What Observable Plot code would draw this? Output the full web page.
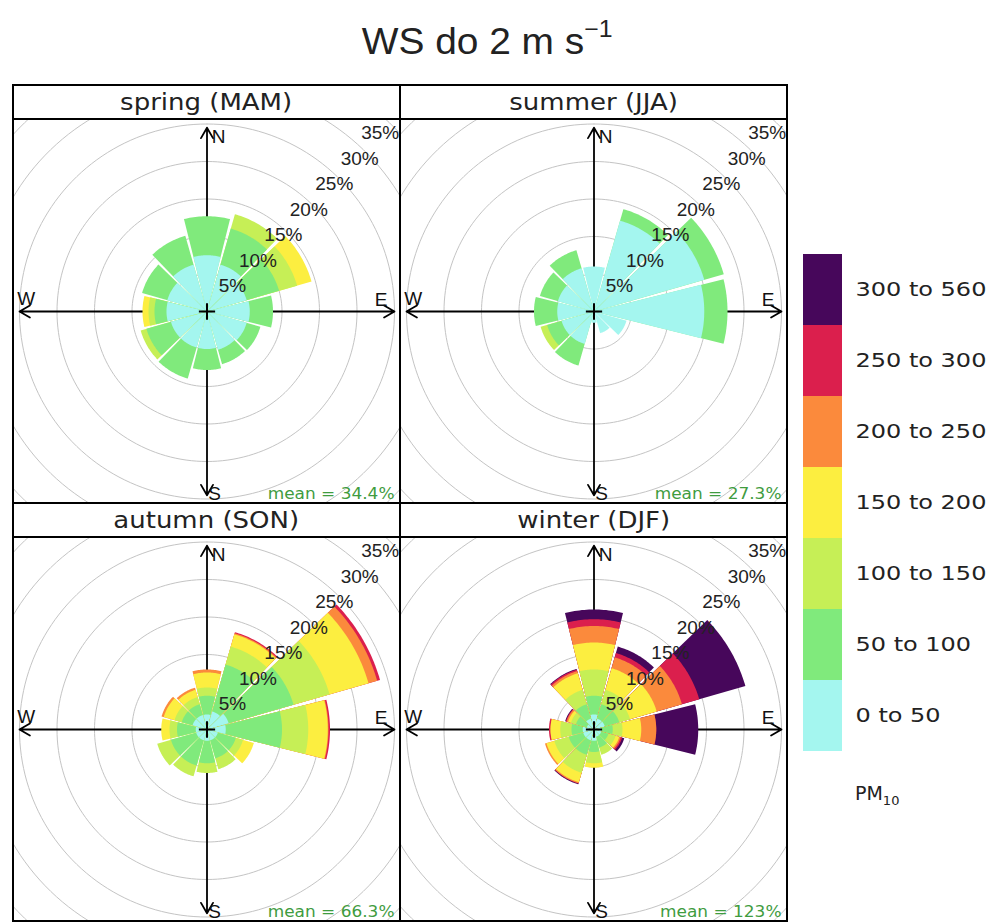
<!DOCTYPE html>
<html><head><meta charset="utf-8">
<script src="https://cdn.jsdelivr.net/npm/d3@7"></script>
<script src="https://cdn.jsdelivr.net/npm/@observablehq/plot@0.6"></script>
<style>
body{margin:0;background:#fff;}
#root{position:relative;width:993px;height:923px;overflow:hidden;background:#fff;font-family:"DejaVu Sans",sans-serif;}
.strip{position:absolute;height:34px;display:flex;align-items:center;justify-content:center;font-size:23px;color:#222;font-family:"DejaVu Sans",sans-serif;}
.strip span{display:inline-block;transform:scaleX(1.13);}
.hline{position:absolute;height:2px;background:#000;}
.vline{position:absolute;width:2px;background:#000;}
#title{position:absolute;left:0;top:11px;width:975px;text-align:center;font-family:"Liberation Sans",Arial,sans-serif;font-size:36px;line-height:36px;color:#222;}
#title span.t{display:inline-block;transform:scaleX(1.08);}
#pm{position:absolute;left:855px;top:782px;font-size:19px;color:#222;font-family:"DejaVu Sans",sans-serif;}
</style></head><body><div id="root"></div>
<script>
// ---------------- data ----------------
const directions = [0, 30, 60, 90, 120, 150, 180, 210, 240, 270, 300, 330];
const pmBins = ["0 to 50", "50 to 100", "100 to 150", "150 to 200", "200 to 250", "250 to 300", "300 to 560"];
const pmColors = ["#A4F6EF", "#80EA7C", "#C6EF56", "#FCEE40", "#FB8A3C", "#DB1F4D", "#47075B"];
const seasonNames = ["spring (MAM)", "summer (JJA)", "autumn (SON)", "winter (DJF)"];
const meanLabels = ["mean = 34.4%", "mean = 27.3%", "mean = 66.3%", "mean = 123%"];
const ringTicks = [5, 10, 15, 20, 25, 30, 35];
// cumulative frequency (%) at the top of each PM10 bin, per direction
const springTops = [
  [7.5, 12.7], [6.5, 11.5, 13.5], [5.5, 10.0, 12.5, 14.5], [5.7, 8.8],
  [5.5, 7.4], [5.3, 7.3], [5.0, 7.8], [5.0, 9.3],
  [5.0, 8.4, 9.2], [5.4, 7.0, 7.8, 8.6], [5.5, 9.0], [6.5, 10.5]
];
const summerTops = [
  [6.0], [12.6, 14.2], [15.3, 18.0], [14.7, 17.8],
  [4.5], [3.0], [1.5], [4.5, 7.5],
  [4.5, 6.5, 7.4], [4.9, 8.0], [5.0, 7.5], [6.0, 8.5]
];
const autumnTops = [
  [2.0, 4.5, 5.6, 7.6, 8.0], [2.5, 9.0, 11.5, 13.2, 13.35, 13.5], [3.0, 12.0, 17.0, 22.4, 23.6, 24.0], [2.5, 10.0, 13.5, 16.1, 16.2, 16.4],
  [1.5, 4.0, 5.0, 6.5], [1.5, 4.0, 5.5], [1.5, 4.5, 5.8], [1.5, 5.0, 6.5],
  [1.5, 5.0, 6.9], [1.5, 4.0, 5.0, 6.1], [2.0, 3.5, 4.5, 6.0, 6.3], [2.0, 3.5, 4.5, 5.5, 5.8]
];
const winterTops = [
  [2.0, 4.5, 8.0, 11.6, 13.8, 14.7, 16.0], [1.5, 3.5, 5.5, 8.5, 10.0, 10.6, 11.5], [1.5, 3.5, 5.0, 8.7, 12.2, 14.6, 21.0], [1.0, 2.5, 3.8, 6.3, 8.3, 8.3, 13.9],
  [1.0, 2.0, 3.0, 3.5, 3.7, 3.9, 4.2], [1.0, 2.5, 3.5], [1.5, 3.0, 4.5, 5.1], [1.5, 3.5, 6.0, 7.3, 7.45, 7.5, 7.6],
  [1.5, 3.5, 5.5, 6.6, 6.8], [1.5, 3.0, 4.5, 5.8, 5.8, 6.0], [1.0, 2.5, 3.2, 3.6, 3.8, 3.9, 4.0], [1.5, 3.5, 5.5, 7.8, 8.1, 8.3, 8.4]
];
const seasonTops = [springTops, summerTops, autumnTops, winterTops];

// ---------------- layout ----------------
const K = 7.5;             // px per percent
const PW = 387, PH = 384, STRIP_H = 34;
const GX = 13, GY = 85;
const xDom = [-PW / 2 / K, PW / 2 / K], yDom = [-PH / 2 / K, PH / 2 / K];
const HALF = 14;           // half sector width in degrees
const AXH = 25, AXV = 24.5;
const rad = Math.PI / 180;

const root = document.getElementById("root");

function wedgePoints(tops, s) {
  const pts = [];
  tops.forEach((cum, i) => {
    const wd = directions[i];
    for (let k = cum.length - 1; k >= 0; k--) {
      const key = s + "-" + wd + "-" + k, r = cum[k], bin = pmBins[k];
      pts.push({key, bin, x: 0, y: 0});
      for (let j = 0; j <= 24; j++) {
        const a = (wd - HALF + 2 * HALF * j / 24) * rad;
        pts.push({key, bin, x: r * Math.sin(a), y: r * Math.cos(a)});
      }
      pts.push({key, bin, x: 0, y: 0});
    }
  });
  return pts;
}

const ringPts = ringTicks.flatMap(p => d3.range(0, 361, 2).map(a => ({p, x: p * Math.sin(a * rad), y: p * Math.cos(a * rad)})));
// labels sit on the rings along 45°, kept inside the panel frame
const ringLabels = ringTicks.map(p => ({
  t: p + "%",
  x: Math.min(p * 0.96 * Math.SQRT1_2, xDom[1] - 2.7),
  y: Math.min(p * 0.96 * Math.SQRT1_2, yDom[1] - 1.4)
}));
const compass = [
  {x1: 0, y1: 0, x2: 0, y2: AXV}, {x1: 0, y1: 0, x2: 0, y2: -AXV},
  {x1: 0, y1: 0, x2: AXH, y2: 0}, {x1: 0, y1: 0, x2: -AXH, y2: 0}
];
const compassLabels = [
  {t: "N", x: 0.062 * AXH, y: 0.95 * AXV}, {t: "S", x: 0.04 * AXH, y: -0.995 * AXV},
  {t: "E", x: 0.928 * AXH, y: 0.064 * AXH}, {t: "W", x: -0.964 * AXH, y: 0.068 * AXH}
];

seasonNames.forEach((name, i) => {
  const c = i % 2, r = Math.floor(i / 2);
  const left = GX + c * PW, top = GY + r * (PH + STRIP_H);
  const strip = document.createElement("div");
  strip.className = "strip";
  strip.style.left = left + "px"; strip.style.top = top + "px"; strip.style.width = PW + "px";
  strip.innerHTML = "<span>" + name + "</span>";
  root.appendChild(strip);

  const svg = Plot.plot({
    width: PW, height: PH, margin: 0,
    x: {domain: xDom, axis: null},
    y: {domain: yDom, axis: null},
    color: {type: "ordinal", domain: pmBins, range: pmColors},
    style: {background: "white", fontFamily: "Liberation Sans, Arial, sans-serif"},
    marks: [
      Plot.line(ringPts, {x: "x", y: "y", z: "p", stroke: "#c4c4c4", strokeWidth: 1, clip: true}),
      Plot.arrow(compass, {x1: "x1", y1: "y1", x2: "x2", y2: "y2", stroke: "#000", strokeWidth: 1.8, headLength: 10, headAngle: 60}),
      Plot.line(wedgePoints(seasonTops[i], i), {x: "x", y: "y", z: "key", fill: "bin", stroke: "none", clip: true}),
      Plot.dot([{x: 0, y: 0}], {x: "x", y: "y", symbol: "plus", r: 5.3, stroke: "#000", strokeWidth: 2, fill: "none"}),
      Plot.text(ringLabels, {x: "x", y: "y", text: "t", fontSize: 19, fill: "#222"}),
      Plot.text(compassLabels, {x: "x", y: "y", text: "t", fontSize: 19, fill: "#111"}),
      Plot.text([meanLabels[i]], {x: () => AXH, y: () => -24.3, text: d => d, textAnchor: "end", fill: "#3f9c3f", fontSize: 16, fontFamily: "DejaVu Sans"})
    ]
  });
  svg.style.position = "absolute";
  svg.style.left = left + "px";
  svg.style.top = (top + STRIP_H) + "px";
  d3.select(svg).selectAll("text").filter(function () { return this.textContent.startsWith("mean"); })
    .attr("transform", function () { return (this.getAttribute("transform") || "") + " scale(1.06,1)"; });
  root.appendChild(svg);
});

// frame lines
const totalH = 2 * (PH + STRIP_H);
[GX, GX + PW, GX + 2 * PW].forEach(x => {
  const d = document.createElement("div"); d.className = "vline";
  d.style.left = (x - 1) + "px"; d.style.top = (GY - 1) + "px"; d.style.height = (totalH + 2) + "px";
  root.appendChild(d);
});
[GY, GY + STRIP_H, GY + STRIP_H + PH, GY + 2 * STRIP_H + PH, GY + totalH].forEach(y => {
  const d = document.createElement("div"); d.className = "hline";
  d.style.top = (y - 1) + "px"; d.style.left = (GX - 1) + "px"; d.style.width = (2 * PW + 2) + "px";
  root.appendChild(d);
});

// title
const title = document.createElement("div");
title.id = "title";
title.innerHTML = '<span class="t">WS do 2 m s<span style="font-size:23px;vertical-align:17px">\u22121</span></span>';
root.appendChild(title);

// legend
const legendSvg = Plot.plot({
  width: 198, height: 600, margin: 0,
  x: {type: "band", domain: ["k"], range: [8, 47], axis: null, padding: 0},
  y: {type: "band", domain: pmBins.slice().reverse(), range: [23, 521], axis: null, padding: 0},
  color: {type: "ordinal", domain: pmBins, range: pmColors},
  style: {background: "white"},
  marks: [
    Plot.cell(pmBins, {x: () => "k", y: d => d, fill: d => d, inset: 0}),
    Plot.text(pmBins, {y: d => d, text: d => d, frameAnchor: "left", dx: 60, textAnchor: "start", fontSize: 20, fill: "#222", fontFamily: "DejaVu Sans"})
  ]
});
legendSvg.style.position = "absolute";
legendSvg.style.left = "795px";
legendSvg.style.top = "230px";
d3.select(legendSvg).selectAll("text").attr("transform", function () { return (this.getAttribute("transform") || "") + " scale(1.2,1)"; });
root.appendChild(legendSvg);

const pm = document.createElement("div");
pm.id = "pm";
pm.innerHTML = 'PM<sub style="font-size:13px">10</sub>';
root.appendChild(pm);
</script></body></html>
